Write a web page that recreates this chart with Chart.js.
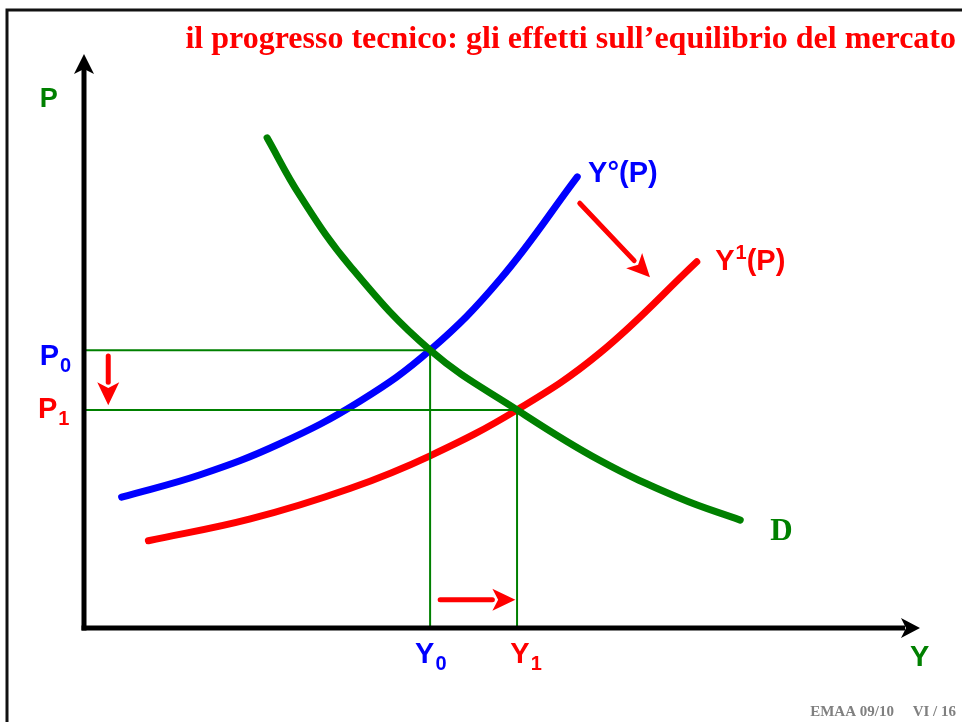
<!DOCTYPE html>
<html>
<head>
<meta charset="utf-8">
<script src="https://cdn.jsdelivr.net/npm/chart.js@4.4.1/dist/chart.umd.min.js"></script>
<style>
  html, body { margin: 0; padding: 0; background: #fff; }
  #wrap { position: relative; width: 962px; height: 722px; overflow: hidden; }
</style>
</head>
<body>
<div id="wrap"><canvas id="chart" width="962" height="722"></canvas></div>
<script>
// curves (Y = quantity, P = price)
var oldSupplyY = [0.45, 1.39, 2.34, 3.30, 4.14, 4.98, 5.90];
var oldSupplyP = [2.28, 2.67, 3.21, 3.95, 4.84, 6.08, 7.86];
var newSupplyY = [0.77, 1.99, 3.18, 4.14, 5.18, 6.17, 7.33];
var newSupplyP = [1.52, 1.90, 2.43, 3.00, 3.80, 4.79, 6.38];
var demandY = [2.19, 2.58, 3.18, 4.14, 5.18, 6.17, 7.13, 7.85];
var demandP = [8.54, 7.54, 6.31, 4.84, 3.80, 2.92, 2.26, 1.88];

// equilibria
var eqY = [4.14, 5.18];
var eqP = [4.84, 3.80];

var axisMaxY = 10, axisMaxP = 10;

var GREEN = '#008000', BLUE = '#0000ff', RED = '#ff0000';

function pts(xs, ys) {
  var out = [];
  for (var i = 0; i < xs.length; i++) out.push({ x: xs[i], y: ys[i] });
  return out;
}

function curve(data, colour) {
  return {
    data: data, showLine: true, borderColor: colour, borderWidth: 7,
    pointRadius: 0, tension: 0.4, cubicInterpolationMode: 'default',
    borderCapStyle: 'round', borderJoinStyle: 'round', fill: false, clip: false
  };
}
function guide(data) {
  return {
    data: data, showLine: true, borderColor: GREEN, borderWidth: 2,
    pointRadius: 0, tension: 0, fill: false, clip: false
  };
}

var datasets = [];
// thin guide lines from the equilibria to the axes
for (var i = 0; i < eqY.length; i++) {
  datasets.push(guide([{ x: 0, y: eqP[i] }, { x: eqY[i], y: eqP[i] }, { x: eqY[i], y: 0 }]));
}
datasets.push(curve(pts(demandY, demandP), GREEN));
datasets.push(curve(pts(oldSupplyY, oldSupplyP), BLUE));
datasets.push(curve(pts(newSupplyY, newSupplyP), RED));

function arrow(ctx, x1, y1, x2, y2, colour, width, headLen, headW) {
  var a = Math.atan2(y2 - y1, x2 - x1);
  var bx = x2 - headLen * Math.cos(a), by = y2 - headLen * Math.sin(a);
  ctx.save();
  ctx.strokeStyle = colour; ctx.fillStyle = colour;
  ctx.lineWidth = width; ctx.lineCap = 'round';
  ctx.beginPath(); ctx.moveTo(x1, y1); ctx.lineTo(bx, by); ctx.stroke();
  ctx.beginPath();
  ctx.moveTo(x2, y2);
  ctx.lineTo(bx + headW / 2 * Math.sin(a), by - headW / 2 * Math.cos(a));
  ctx.lineTo(bx + headLen * 0.25 * Math.cos(a), by + headLen * 0.25 * Math.sin(a));
  ctx.lineTo(bx - headW / 2 * Math.sin(a), by + headW / 2 * Math.cos(a));
  ctx.closePath(); ctx.fill();
  ctx.restore();
}

// text with a subscript / superscript part
function label(ctx, x, y, main, extra, after, colour, size, up) {
  ctx.save();
  ctx.fillStyle = colour; ctx.textBaseline = 'alphabetic'; ctx.textAlign = 'left';
  ctx.font = 'bold ' + size + 'px "Liberation Sans", Arial, sans-serif';
  ctx.fillText(main, x, y);
  var w = ctx.measureText(main).width;
  if (extra) {
    ctx.font = 'bold ' + Math.round(size * 0.68) + 'px "Liberation Sans", Arial, sans-serif';
    ctx.fillText(extra, x + w + 1, up ? y - size * 0.38 : y + size * 0.25);
    w += ctx.measureText(extra).width + 1;
  }
  if (after) {
    ctx.font = 'bold ' + size + 'px "Liberation Sans", Arial, sans-serif';
    ctx.fillText(after, x + w, y);
  }
  ctx.restore();
}

var decor = {
  id: 'decor',
  beforeDraw: function (chart) {
    var ctx = chart.ctx;
    ctx.save();
    ctx.fillStyle = '#fff'; ctx.fillRect(0, 0, chart.width, chart.height);
    // slide frame
    ctx.strokeStyle = '#111'; ctx.lineWidth = 3;
    ctx.beginPath(); ctx.moveTo(7, chart.height); ctx.lineTo(7, 10); ctx.lineTo(chart.width, 10); ctx.stroke();
    ctx.restore();
  },
  afterDatasetsDraw: function (chart) {
    var ctx = chart.ctx, xs = chart.scales.x, ys = chart.scales.y;
    var X = function (v) { return xs.getPixelForValue(v); };
    var Y = function (v) { return ys.getPixelForValue(v); };

    // axes with arrow heads
    ctx.save();
    ctx.strokeStyle = '#000'; ctx.fillStyle = '#000'; ctx.lineWidth = 5; ctx.lineCap = 'butt';
    ctx.beginPath(); ctx.moveTo(X(0), Y(0) + 2.5); ctx.lineTo(X(0), Y(axisMaxP) + 15); ctx.stroke();
    ctx.beginPath(); ctx.moveTo(X(0) - 2.5, Y(0)); ctx.lineTo(X(axisMaxY) - 15, Y(0)); ctx.stroke();
    ctx.beginPath();
    ctx.moveTo(X(0), Y(axisMaxP)); ctx.lineTo(X(0) - 10, Y(axisMaxP) + 20);
    ctx.lineTo(X(0), Y(axisMaxP) + 15); ctx.lineTo(X(0) + 10, Y(axisMaxP) + 20); ctx.closePath(); ctx.fill();
    ctx.beginPath();
    ctx.moveTo(X(axisMaxY), Y(0)); ctx.lineTo(X(axisMaxY) - 19, Y(0) - 10);
    ctx.lineTo(X(axisMaxY) - 14, Y(0)); ctx.lineTo(X(axisMaxY) - 19, Y(0) + 10); ctx.closePath(); ctx.fill();
    ctx.restore();

    // red shift arrows
    arrow(ctx, X(0.29), Y(4.74), X(0.29), Y(3.88), RED, 5, 23, 22);
    arrow(ctx, X(4.26), Y(0.49), X(5.16), Y(0.49), RED, 5, 23, 22);
    arrow(ctx, X(5.93), Y(7.40), X(6.77), Y(6.11), RED, 5, 23, 22);

    // labels
    label(ctx, X(-0.53), Y(9.08), 'P', '', '', GREEN, 27);
    label(ctx, X(-0.53), Y(4.58), 'P', '0', '', BLUE, 29);
    label(ctx, X(-0.55), Y(3.66), 'P', '1', '', RED, 29);
    label(ctx, X(3.96), Y(-0.61), 'Y', '0', '', BLUE, 29);
    label(ctx, X(5.10), Y(-0.61), 'Y', '1', '', RED, 29);
    label(ctx, X(9.88), Y(-0.66), 'Y', '', '', GREEN, 29);
    label(ctx, X(6.03), Y(7.77), 'Y°(P)', '', '', BLUE, 29);
    label(ctx, X(7.55), Y(6.24), 'Y', '1', '(P)', RED, 29, true);

    ctx.save();
    ctx.fillStyle = GREEN; ctx.textAlign = 'left'; ctx.textBaseline = 'alphabetic';
    ctx.font = 'bold 31px "Liberation Serif", "Times New Roman", serif';
    ctx.fillText('D', X(8.21), Y(1.53));
    ctx.restore();

    // title and footer
    ctx.save();
    ctx.fillStyle = RED; ctx.textAlign = 'right'; ctx.textBaseline = 'alphabetic';
    ctx.font = 'bold 32px "Liberation Serif", "Times New Roman", serif';
    ctx.fillText('il progresso tecnico: gli effetti sull\u2019equilibrio del mercato', 956, 48);
    ctx.fillStyle = '#808080';
    ctx.font = 'bold 15px "Liberation Serif", "Times New Roman", serif';
    ctx.fillText('EMAA 09/10     VI / 16', 956, 716);
    ctx.restore();
  }
};

var chart = new Chart(document.getElementById('chart'), {
  type: 'scatter',
  data: { datasets: datasets },
  options: {
    responsive: false, animation: false, devicePixelRatio: 1,
    layout: { padding: { left: 84, right: 42, top: 54, bottom: 94 } },
    plugins: { legend: { display: false }, tooltip: { enabled: false }, title: { display: false } },
    scales: {
      x: { type: 'linear', min: 0, max: axisMaxY, display: false },
      y: { type: 'linear', min: 0, max: axisMaxP, display: false }
    }
  },
  plugins: [decor]
});
</script>
</body>
</html>
